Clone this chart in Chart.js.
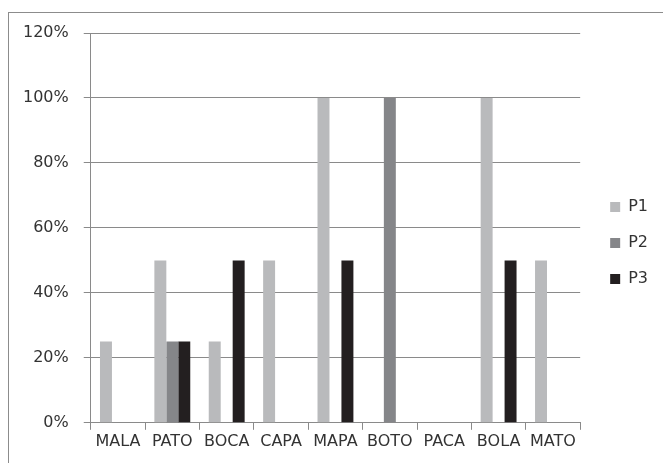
<!DOCTYPE html>
<html>
<head>
<meta charset="utf-8">
<script src="https://cdn.jsdelivr.net/npm/chart.js@4"></script>
<style>
  html, body { margin: 0; padding: 0; background: #fff; overflow: hidden; }
  #wrap { position: relative; width: 663px; height: 463px; }
  #frame { position: absolute; left: 8px; top: 12px; width: 700px; height: 500px; border: 1px solid #8c8c8c; }
  canvas { position: absolute; left: 0; top: 0; }
</style>
</head>
<body>
<div id="wrap">
  <div id="frame"></div>
  <canvas id="chart" width="663" height="463"></canvas>
</div>
<script>
var palabras = ['MALA', 'PATO', 'BOCA', 'CAPA', 'MAPA', 'BOTO', 'PACA', 'BOLA', 'MATO'];
var p1 = [25, 50, 25, 50, 100, 0, 0, 100, 50];
var p2 = [0, 25, 0, 0, 0, 100, 0, 0, 0];
var p3 = [0, 25, 50, 0, 50, 0, 0, 50, 0];
var yTicks = [0, 20, 40, 60, 80, 100, 120];

var gris = '#8a8a8a';
var fuente = { family: 'DejaVu Sans', size: 16 };

var cfg = {
    type: 'bar',
    data: {
        labels: palabras,
        datasets: [
            { label: 'P1', data: p1, backgroundColor: '#b9babc' },
            { label: 'P2', data: p2, backgroundColor: '#858689' },
            { label: 'P3', data: p3, backgroundColor: '#231f20' }
        ]
    },
    options: {
        responsive: false,
        animation: false,
        layout: { padding: { left: 8, right: 5, top: 33, bottom: 10 } },
        datasets: {
            bar: { categoryPercentage: 0.66, barPercentage: 1 }
        },
        plugins: {
            legend: {
                position: 'right',
                labels: {
                    boxWidth: 10,
                    boxHeight: 10,
                    padding: 20,
                    color: '#333',
                    font: fuente
                }
            },
            tooltip: { enabled: false }
        },
        scales: {
            x: {
                grid: {
                    offset: true,
                    drawOnChartArea: false,
                    color: gris,
                    tickLength: 7
                },
                border: { color: gris },
                ticks: { color: '#333', font: fuente, padding: 2 }
            },
            y: {
                min: 0,
                max: 120,
                afterBuildTicks: function (axis) {
                    axis.ticks = yTicks.map(function (v) { return { value: v }; });
                },
                grid: { color: gris, tickLength: 7 },
                border: { color: gris },
                ticks: {
                    color: '#333',
                    font: fuente,
                    padding: 15,
                    callback: function (v) { return v + '%'; }
                }
            },
            // hueco vacío entre el área de barras y la leyenda
            hueco: {
                position: 'right',
                grid: { display: false },
                border: { display: false },
                ticks: { display: false },
                afterFit: function (s) { s.width = 10; }
            }
        }
    }
};

var grafico = new Chart(document.getElementById('chart'), cfg);
</script>
</body>
</html>
